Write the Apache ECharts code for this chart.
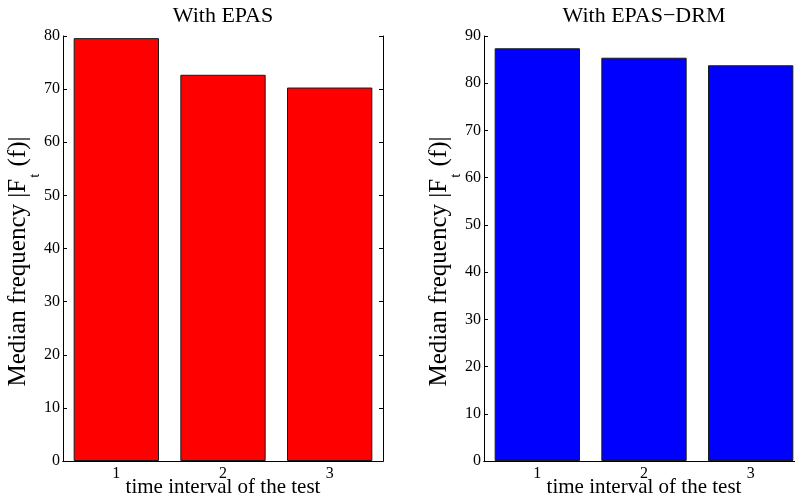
<!DOCTYPE html>
<html>
<head>
<meta charset="utf-8">
<script src="https://cdn.jsdelivr.net/npm/echarts@6/dist/echarts.min.js"></script>
<style>
  html, body { margin: 0; padding: 0; background: #fff; }
  #chart { width: 795px; height: 501px; }
</style>
</head>
<body>
<div id="chart"></div>
<script>
// values
var categories = ['1', '2', '3']
var epasValues = [79.6, 72.7, 70.3]
var drmValues = [87.4, 85.4, 83.8]
var epasMax = 80
var drmMax = 90

var serif = 'Liberation Serif'
var black = '#000'

function xAxes(gridIndex) {
  var base = {
    type: 'category',
    gridIndex: gridIndex,
    data: categories,
    axisLine: { lineStyle: { color: black, width: 1 } },
    axisTick: { inside: true, length: 4, alignWithLabel: true, lineStyle: { color: black } },
    splitLine: { show: false }
  }
  return [
    Object.assign({}, base, {
      position: 'bottom',
      axisLabel: { fontFamily: serif, fontSize: 16, color: black, margin: 5 },
      name: 'time interval of the test',
      nameLocation: 'middle',
      nameGap: 16,
      nameMoveOverlap: false,
      nameTextStyle: { fontFamily: serif, fontSize: 21, color: black }
    }),
    Object.assign({}, base, {
      position: 'top',
      axisLabel: { show: false }
    })
  ]
}

function yAxes(gridIndex, max) {
  var base = {
    type: 'value',
    gridIndex: gridIndex,
    min: 0,
    max: max,
    interval: 10,
    axisLine: { show: true, lineStyle: { color: black, width: 1 } },
    axisTick: { show: true, inside: true, length: 4, lineStyle: { color: black } },
    splitLine: { show: false }
  }
  return [
    Object.assign({}, base, {
      position: 'left',
      axisLabel: { fontFamily: serif, fontSize: 16, color: black, margin: 3 },
      name: '{m|Median frequency |F}{s|t}{m| (f)|}',
      nameLocation: 'middle',
      nameRotate: 90,
      nameGap: 30,
      nameMoveOverlap: false,
      nameTextStyle: {
        fontFamily: serif,
        color: black,
        padding: [0, 26, 0, 0],
        rich: {
          m: { fontFamily: serif, fontSize: 25, lineHeight: 27, verticalAlign: 'top', color: black },
          s: { fontFamily: serif, fontSize: 15, lineHeight: 17, verticalAlign: 'top', padding: [22, 1, 0, 1], color: black }
        }
      }
    }),
    Object.assign({}, base, {
      position: 'right',
      axisLabel: { show: false }
    })
  ]
}

var chart = echarts.init(document.getElementById('chart'), null, { renderer: 'canvas' })

chart.setOption({
  animation: false,
  backgroundColor: '#fff',
  title: [
    { text: 'With EPAS', left: 223, top: 5, padding: 0, textAlign: 'center',
      textStyle: { fontFamily: serif, fontSize: 22, fontWeight: 'normal', color: black } },
    { text: 'With EPAS\u2212DRM', left: 644, top: 5, padding: 0, textAlign: 'center',
      textStyle: { fontFamily: serif, fontSize: 22, fontWeight: 'normal', color: black } }
  ],
  grid: [
    { left: 63, top: 36, width: 320, height: 425, outerBoundsMode: 'none' },
    { left: 484, top: 36, width: 320, height: 425, outerBoundsMode: 'none' }
  ],
  xAxis: xAxes(0).concat(xAxes(1)),
  yAxis: yAxes(0, epasMax).concat(yAxes(1, drmMax)),
  series: [
    {
      type: 'bar',
      xAxisIndex: 0,
      yAxisIndex: 0,
      data: epasValues,
      barCategoryGap: '20%',
      itemStyle: { color: '#ff0000', borderColor: '#1a1a1a', borderWidth: 1 }
    },
    {
      type: 'bar',
      xAxisIndex: 2,
      yAxisIndex: 2,
      data: drmValues,
      barCategoryGap: '20%',
      itemStyle: { color: '#0000ff', borderColor: '#1a1a1a', borderWidth: 1 }
    }
  ]
})
</script>
</body>
</html>
